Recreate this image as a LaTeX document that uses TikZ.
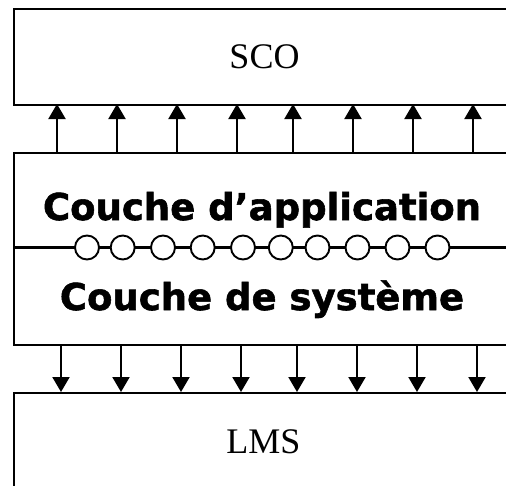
\documentclass[tikz,border=0pt]{standalone}
\usepackage{fontspec}
\setmainfont{Liberation Serif}
\newfontfamily\layerfont{DejaVu Sans}[BoldFeatures={FakeBold=1.5}]
\usetikzlibrary{arrows.meta}

\begin{document}
\begin{tikzpicture}[x=1pt,y=-1pt,
  layerbox/.style={draw=black, line width=2.1pt, rectangle, anchor=north west,
                   inner sep=0pt, minimum width=520pt},
  titletext/.style={anchor=base, inner sep=0pt, font=\fontsize{36}{40}\selectfont},
  layertext/.style={anchor=base, inner sep=0pt, font=\layerfont\bfseries\fontsize{37}{42}\selectfont},
  flow/.style={line width=2.1pt, -{Triangle[width=17pt,length=15pt]}},
  port/.style={circle, draw=black, fill=white, line width=1.9pt, minimum size=24pt, inner sep=0pt}]

  \useasboundingbox (0,0) rectangle (506,485);
  \clip (0,0) rectangle (506,485);

  % the three layers, open on the right
  \node[layerbox, minimum height=96pt]  (sco) at (13,8)   {};
  \node[layerbox, minimum height=192pt] (rte) at (13,152) {};
  \node[layerbox, minimum height=130pt] (lms) at (13,392) {};

  \node[titletext] (scolabel) at (264.5,68) {SCO};
  \node[titletext] (lmslabel) at (263.5,453) {LMS};

  \node[layertext] (applabel) at (262,220) {Couche d’application};
  \node[layertext] (syslabel) at (262,310) {Couche de système};

  % interface line between the two layers, with its ports
  \coordinate (ifl) at (13,247.5);
  \coordinate (ifr) at (520,247.5);
  \draw[line width=2.1pt] (ifl) -- (ifr);
  \foreach \i/\x in {1/87,2/122.7,3/163,4/202.7,5/243,6/280.8,7/317.5,8/357.5,9/397.5,10/437.5}
    \node[port] (p\i) at (\x,247.5) {};

  % calls from the runtime layer up to the SCO
  \foreach \i/\x in {1/57,2/117,3/177,4/237,5/293,6/353,7/413,8/473} {
    \coordinate (ua\i) at (\x,152);
    \coordinate (ub\i) at (\x,104);
    \draw[flow] (ua\i) -- (ub\i);
  }

  % calls from the runtime layer down to the LMS
  \foreach \i/\x in {1/61,2/121,3/181,4/241,5/297,6/357,7/417,8/477} {
    \coordinate (da\i) at (\x,344);
    \coordinate (db\i) at (\x,392);
    \draw[flow] (da\i) -- (db\i);
  }
\end{tikzpicture}
\end{document}
